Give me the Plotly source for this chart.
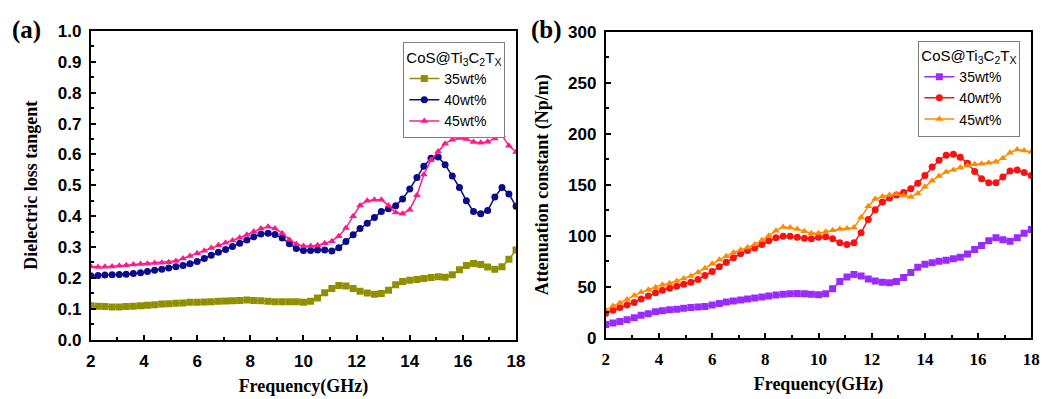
import plotly.graph_objects as go

freq = [2.0, 2.27, 2.53, 2.8, 3.07, 3.33, 3.6, 3.87, 4.13, 4.4, 4.67, 4.93, 5.2, 5.47, 5.73,
        6.0, 6.27, 6.53, 6.8, 7.07, 7.33, 7.6, 7.87, 8.13, 8.4, 8.67, 8.93, 9.2, 9.47, 9.73,
        10.0, 10.27, 10.53, 10.8, 11.07, 11.33, 11.6, 11.87, 12.13, 12.4, 12.67, 12.93, 13.2,
        13.47, 13.73, 14.0, 14.27, 14.53, 14.8, 15.07, 15.33, 15.6, 15.87, 16.13, 16.4, 16.67,
        16.93, 17.2, 17.47, 17.73, 18.0]

# (a) Dielectric loss tangent
tan_35 = [0.110, 0.108, 0.107, 0.106, 0.106, 0.107, 0.108, 0.110, 0.111, 0.113, 0.115, 0.116,
          0.118, 0.119, 0.121, 0.121, 0.122, 0.123, 0.124, 0.125, 0.126, 0.127, 0.128, 0.127,
          0.126, 0.124, 0.123, 0.123, 0.123, 0.123, 0.121, 0.124, 0.135, 0.152, 0.166, 0.175,
          0.174, 0.166, 0.157, 0.151, 0.147, 0.149, 0.160, 0.178, 0.188, 0.192, 0.195, 0.198,
          0.201, 0.204, 0.202, 0.210, 0.226, 0.240, 0.247, 0.243, 0.235, 0.228, 0.236, 0.260, 0.290]
tan_40 = [0.207, 0.208, 0.209, 0.210, 0.211, 0.212, 0.214, 0.217, 0.221, 0.225, 0.228, 0.232,
          0.236, 0.240, 0.246, 0.253, 0.263, 0.273, 0.283, 0.292, 0.302, 0.312, 0.323, 0.333,
          0.342, 0.345, 0.341, 0.329, 0.311, 0.295, 0.289, 0.289, 0.290, 0.290, 0.287, 0.298,
          0.318, 0.340, 0.360, 0.377, 0.396, 0.415, 0.424, 0.434, 0.456, 0.488, 0.525, 0.562,
          0.588, 0.592, 0.567, 0.530, 0.493, 0.450, 0.415, 0.408, 0.418, 0.462, 0.493, 0.472, 0.432]
tan_45 = [0.237, 0.235, 0.236, 0.237, 0.239, 0.241, 0.243, 0.245, 0.246, 0.248, 0.249, 0.251,
          0.255, 0.263, 0.271, 0.280, 0.288, 0.297, 0.306, 0.314, 0.321, 0.330, 0.340, 0.350,
          0.360, 0.366, 0.360, 0.345, 0.324, 0.310, 0.303, 0.303, 0.306, 0.312, 0.319, 0.335,
          0.362, 0.400, 0.435, 0.450, 0.453, 0.453, 0.435, 0.412, 0.408, 0.421, 0.468, 0.535,
          0.582, 0.610, 0.635, 0.648, 0.653, 0.650, 0.640, 0.638, 0.641, 0.652, 0.662, 0.628, 0.608]

# (b) Attenuation constant (Np/m)
att_35 = [13, 14.5, 16, 17.5, 19.5, 22, 23.5, 25.5, 26.5, 27.5, 28, 29, 29.5, 30, 30.5, 32,
          33.5, 35, 36, 37, 38, 39, 40, 41, 41.8, 42.5, 43, 43.3, 43.2, 42.5, 42, 43, 48, 55,
          59.5, 62, 60.5, 57.5, 55.5, 54.5, 54, 55, 59, 64, 69, 72, 73.5, 75, 76, 77.5, 79, 82,
          86.5, 90.5, 95, 98, 96, 94.5, 98, 102.5, 106]
att_40 = [24, 27, 29.5, 32, 34.5, 38, 41, 44, 46.5, 48.5, 50.5, 52.5, 54.5, 57, 61, 65, 69.5,
          74, 78.5, 82.5, 85.5, 88, 91.5, 95, 98, 99.5, 99.5, 98.5, 97.5, 97, 98.5, 99, 97, 93,
          91.5, 93, 103, 116, 125.5, 133, 137, 140, 142.5, 146, 151.5, 159, 167.5, 174, 179, 180,
          177, 171, 163, 156, 152, 152, 157.5, 163.5, 164.5, 162, 159]
att_45 = [27, 31, 34, 37.5, 41.5, 44.5, 47, 49.5, 52, 53.5, 55.5, 58, 60.5, 64, 68, 72.5, 76.5,
          80, 83.5, 86, 88.5, 91.5, 95.5, 100, 105, 108.5, 108, 106.5, 104.5, 102.5, 102.5, 104,
          105.5, 106.5, 107, 108, 118, 129, 136, 138.5, 140, 141, 139.5, 138, 141.5, 148, 154,
          158.5, 162.5, 164.5, 167, 169, 170, 170.5, 171.5, 172.5, 176, 181.5, 184.5, 183.5, 182]

names = ["35wt%", "40wt%", "45wt%"]
x_ticks = [2, 4, 6, 8, 10, 12, 14, 16, 18]
ya_ticks = [0.0, 0.1, 0.2, 0.3, 0.4, 0.5, 0.6, 0.7, 0.8, 0.9, 1.0]
yb_ticks = [0, 50, 100, 150, 200, 250, 300]

symbols = ["square", "circle", "triangle-up"]
colors_a = ["#8f8f00", "#0a0a8c", "#ff1a8c"]
colors_b = ["#9a2bff", "#ff1010", "#ff8a00"]

fig = go.Figure()
for ys, nm, sym, col in zip([tan_35, tan_40, tan_45], names, symbols, colors_a):
    fig.add_trace(go.Scatter(x=freq, y=ys, name=nm, mode="lines+markers",
                             line=dict(color=col, width=1.5),
                             marker=dict(symbol=sym, size=7, color=col),
                             xaxis="x", yaxis="y", legend="legend"))
for ys, nm, sym, col in zip([att_35, att_40, att_45], names, symbols, colors_b):
    fig.add_trace(go.Scatter(x=freq, y=ys, name=nm, mode="lines+markers",
                             line=dict(color=col, width=1.5),
                             marker=dict(symbol=sym, size=7, color=col),
                             xaxis="x2", yaxis="y2", legend="legend2"))

SANS = "Liberation Sans, Arial, sans-serif"
SERIF = "Liberation Serif, Times New Roman, serif"
sans_b = dict(family=SANS, size=17, color="black")
serif_b = dict(family=SERIF, size=17, color="black")
title_f = dict(family=SERIF, size=18, color="black")

def bold(vals, fmt):
    return ["<b>" + format(v, fmt) + "</b>" for v in vals]

def xax(domain, anchor, tickfont):
    return dict(domain=domain, anchor=anchor, range=[2, 18],
                tickvals=x_ticks, ticktext=bold(x_ticks, "d"),
                showline=True, linecolor="black", linewidth=2, mirror=True,
                ticks="inside", ticklen=5, tickwidth=1.5, tickcolor="black",
                minor=dict(ticks="inside", ticklen=3, tickwidth=1.5, dtick=1, tick0=2, tickcolor="black"),
                showgrid=False, zeroline=False, tickfont=tickfont, ticklabelstandoff=5,
                title=dict(text="<b>Frequency(GHz)</b>", font=title_f, standoff=9))

def yax(domain, anchor, rng, tv, fmt, mdtick, title):
    return dict(domain=domain, anchor=anchor, range=rng,
                tickvals=tv, ticktext=bold(tv, fmt),
                showline=True, linecolor="black", linewidth=2, mirror=True,
                ticks="inside", ticklen=5, tickwidth=1.5, tickcolor="black",
                minor=dict(ticks="inside", ticklen=3, tickwidth=1.5, dtick=mdtick, tick0=0, tickcolor="black"),
                showgrid=False, zeroline=False, tickfont=sans_b, ticklabelstandoff=4,
                title=dict(text="<b>" + title + "</b>", font=title_f, standoff=15))

leg_font = dict(family=SANS, size=14, color="black")
leg_title = dict(text="CoS@Ti<sub>3</sub>C<sub>2</sub>T<sub>X</sub>", font=dict(family=SANS, size=15, color="black"))

fig.update_layout(
    width=1057, height=399,
    margin=dict(l=0, r=0, t=0, b=0),
    paper_bgcolor="white", plot_bgcolor="white",
    xaxis=xax([0.0823, 0.490], "y", sans_b),
    yaxis=yax([0.130, 0.942], "x", [0, 1.0], ya_ticks, ".1f", 0.05, "Dielectric loss tangent"),
    xaxis2=xax([0.576, 0.984], "y2", serif_b),
    yaxis2=yax([0.135, 0.940], "x2", [0, 300], yb_ticks, "d", 25, "Attenuation constant (Np/m)"),
    legend=dict(x=0.4797, y=0.912, xanchor="right", yanchor="top",
                bordercolor="#7f7f7f", borderwidth=1, bgcolor="white",
                font=leg_font, title=leg_title, tracegroupgap=0, itemwidth=30),
    legend2=dict(x=0.9735, y=0.917, xanchor="right", yanchor="top",
                 bordercolor="#7f7f7f", borderwidth=1, bgcolor="white",
                 font=leg_font, title=leg_title, tracegroupgap=0, itemwidth=30),
    showlegend=True,
    annotations=[
        dict(text="<b>(a)</b>", x=0.021, y=0.945, xref="paper", yref="paper", xanchor="center", yanchor="middle",
             showarrow=False, font=dict(family=SERIF, size=25, color="black")),
        dict(text="<b>(b)</b>", x=0.519, y=0.945, xref="paper", yref="paper", xanchor="center", yanchor="middle",
             showarrow=False, font=dict(family=SERIF, size=25, color="black")),
    ],
)

fig.write_html("out.html")
